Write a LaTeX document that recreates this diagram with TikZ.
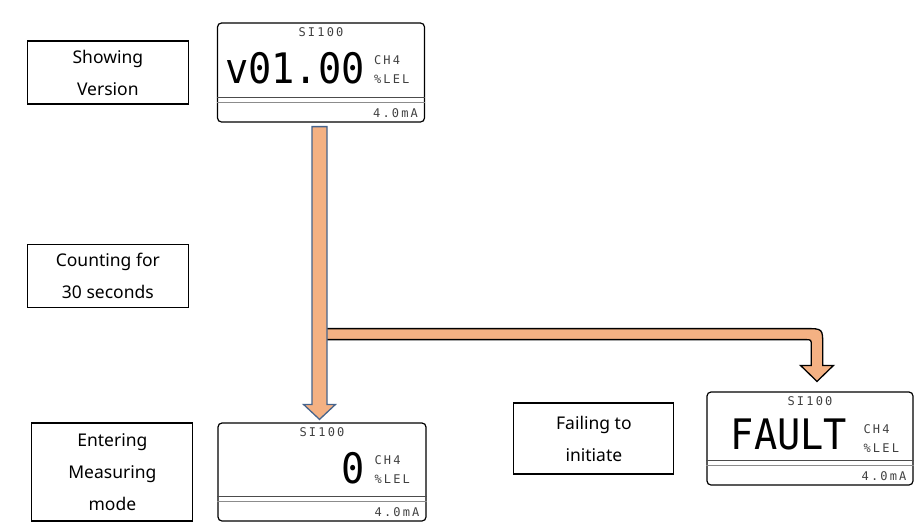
\documentclass[tikz,border=0pt]{standalone}
\usepackage{fontspec}
\usepackage{graphicx}
\usetikzlibrary{positioning,calc}
\newfontfamily\notefont{Noto Sans}
\newfontfamily\lcdfont{DejaVu Sans Mono}[LetterSpace=18]
\newfontfamily\lcdbigfont{DejaVu Sans Mono}
\definecolor{arrowfill}{RGB}{244,177,131}
\definecolor{arrowedge}{RGB}{70,100,140}
\tikzstyle{note}=[draw, line width=1.1pt, align=center, inner sep=0pt, minimum width=161pt, font=\notefont\fontsize{17.5}{32}\selectfont]
\tikzstyle{lcd}=[draw, rounded corners=4pt, line width=1.2pt]
\tikzstyle{lcdtext}=[inner sep=0pt, text=black!75, font=\lcdfont\fontsize{12}{12}\selectfont]
\tikzstyle{lcdbig}=[inner sep=0pt, font=\lcdbigfont\fontsize{42}{42}\selectfont]
\tikzstyle{main arrow}=[draw=arrowedge, fill=arrowfill, line width=1.3pt]
\tikzstyle{side arrow}=[draw=black, fill=arrowfill, line width=1.3pt]

\begin{document}
\begin{tikzpicture}[x=1pt, y=-1pt]
    \useasboundingbox (0,0) rectangle (921,528);
    \node[lcd, minimum width=207pt, minimum height=99pt] (d1) at (321,72.5) {};
    \node[lcd, minimum width=208pt, minimum height=98pt] (d2) at (322,472) {};
    \node[lcd, minimum width=206pt, minimum height=93pt] (d3) at (810,438.5) {};
    \foreach \scr/\val/\xs/\ys in {d1/v01.00/148/46, d2/0/148/46, d3/FAULT/141/43} {
        \node[lcdtext, below=5pt of \scr.north] (\scr-name) {SI100};
        \node[lcdbig, anchor=east] (\scr-value) at ($(\scr.north west)+(\xs,\ys)$) {\scalebox{0.92}[1]{\val}};
        \node[lcdtext, anchor=west] (\scr-gas) at ($(\scr.north west)+(157,38)$) {CH4};
        \node[lcdtext, anchor=west] (\scr-unit) at ($(\scr.north west)+(157,57)$) {\%LEL};
        \draw[black!70, line width=0.8pt] ($(\scr.south west)+(0,-25)$) -- ($(\scr.south east)+(0,-25)$);
        \draw[black!45, line width=0.8pt] ($(\scr.south west)+(0,-20)$) -- ($(\scr.south east)+(0,-20)$);
        \node[lcdtext, anchor=east] (\scr-current) at ($(\scr.south east)+(-7,-9)$) {4.0mA};
    }
    \node[note, minimum height=63pt, left=28pt of d1] (ver) {Showing\\Version};
    \node[note, minimum height=63pt, below=139pt of ver] (cnt) {Counting for\\30 seconds};
    \node[note, minimum height=98pt, left=24pt of d2] (ent) {Entering\\Measuring\\mode};
    \node[note, minimum height=71pt, minimum width=160pt, left=32pt of d3] (fail) {Failing to\\initiate};
    \coordinate (vtop) at ($(d1.south)+(-1.5,4)$);
    \coordinate (vtip) at ($(d2.north)+(-2.5,-3)$);
    \coordinate (fork) at ($(vtop)+(0,207.5)$);
    \coordinate (ftip) at ($(d3.north)+(7,-10)$);
    \path[side arrow] ($(fork)+(0,-5.5)$) -- ($(fork -| ftip)+(-11.25,-5.5)$) .. controls ($(fork -| ftip)+(5.75,-5.5)$) .. ($(fork -| ftip)+(5.75,11.5)$) -- ($(ftip)+(5.75,-16)$) -- ($(ftip)+(16.5,-16)$) -- (ftip) -- ($(ftip)+(-16.5,-16)$) -- ($(ftip)+(-5.75,-16)$) -- ($(fork -| ftip)+(-5.75,11.5)$) .. controls ($(fork -| ftip)+(-5.75,5.5)$) .. ($(fork -| ftip)+(-11.75,5.5)$) -- ($(fork)+(0,5.5)$) -- cycle;
    \path[main arrow] ($(vtop)+(-7.5,0)$) -- ($(vtop)+(7.5,0)$) -- ($(vtip)+(7.5,-15)$) -- ($(vtip)+(16,-15)$) -- (vtip) -- ($(vtip)+(-16,-15)$) -- ($(vtip)+(-7.5,-15)$) -- cycle;
\end{tikzpicture}
\end{document}
